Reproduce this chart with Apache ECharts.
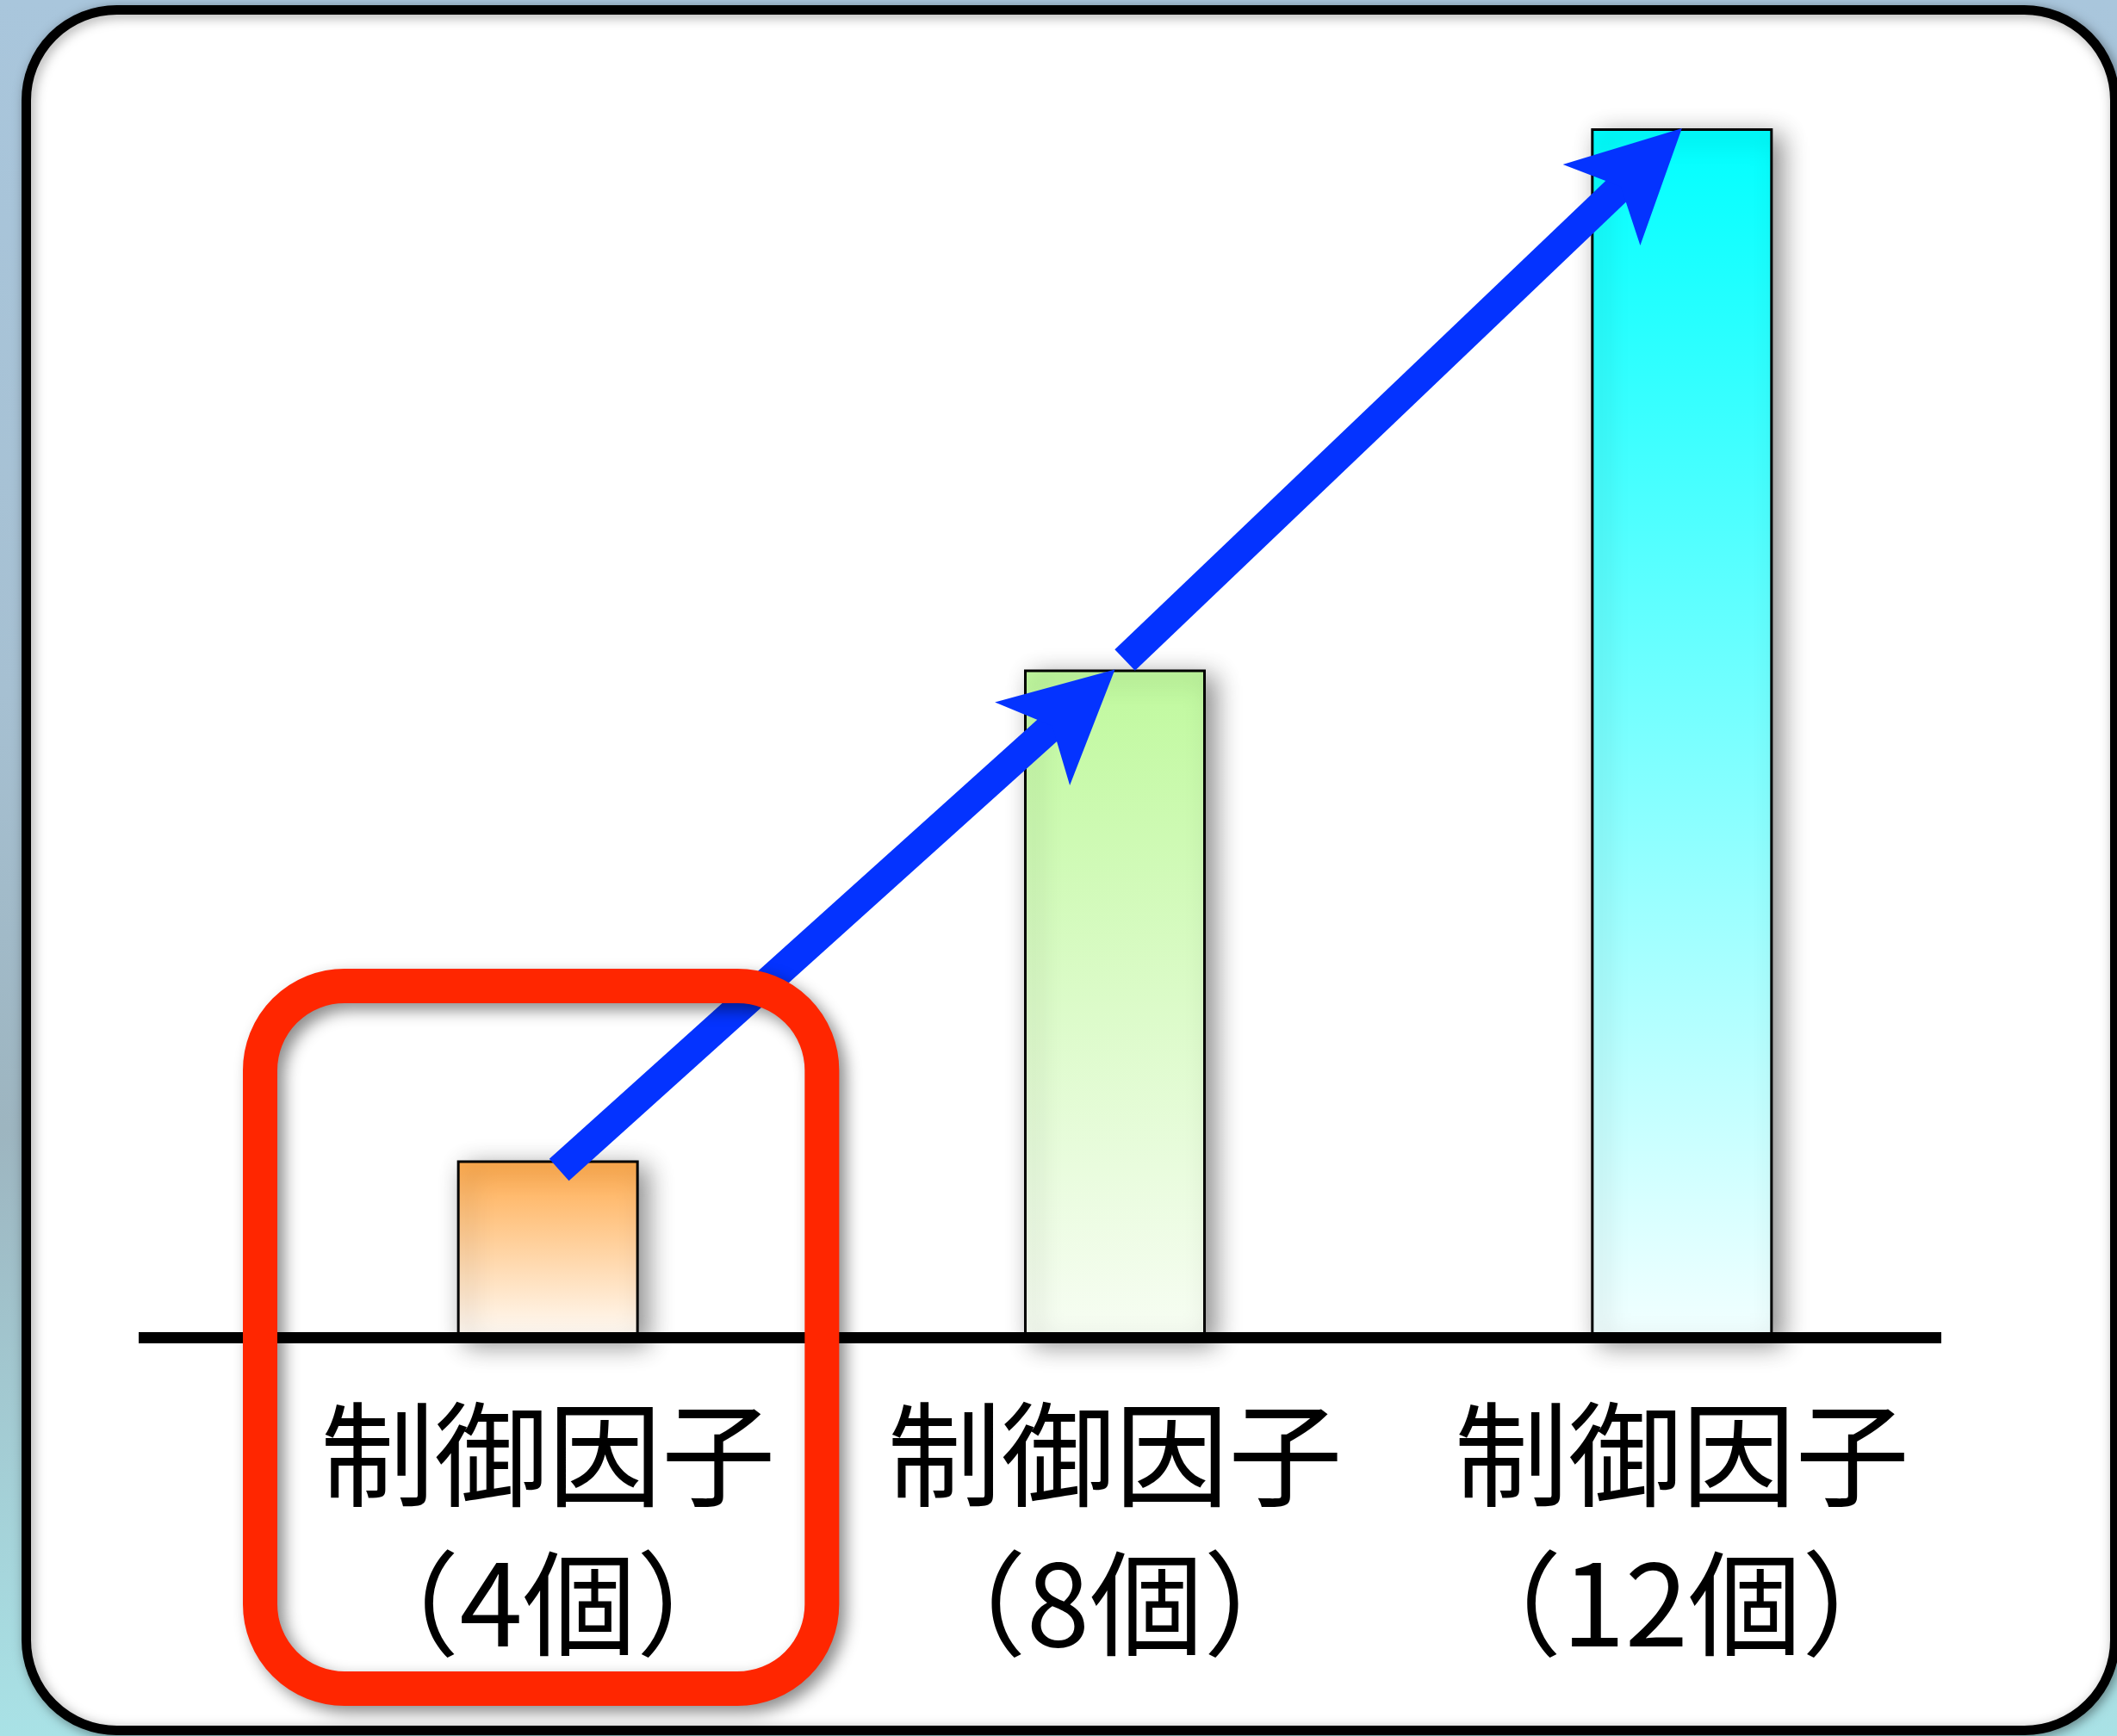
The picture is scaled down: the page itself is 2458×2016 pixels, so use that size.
<!DOCTYPE html>
<html><head><meta charset="utf-8">
<script src="https://cdn.jsdelivr.net/npm/echarts@6/dist/echarts.min.js"></script>
<style>
html,body{margin:0;padding:0;width:2458px;height:2016px;overflow:hidden;
background: linear-gradient(180deg,#a9c6dc 0%,#a6c0d2 40%,#9db5c0 65%,#a9e2e6 100%);}
#chart{width:2458px;height:2016px;}
</style></head><body><div id="chart"></div>
<script>
const categories = ['制御因子\n（4個）', '制御因子\n（8個）', '制御因子\n（12個）'];
const values = [13.7, 51.7, 93.6];
const barTopColors = ['#ffaa4c', '#c0f99e', '#00ffff'];
const barBottomColors = ['#fffbf6', '#f7fdf3', '#f2ffff'];
const arrowFrom = [0, 1];
const arrowTo = [1, 2];
const highlighted = [0];
const highlightReach = 27.2;

const FONT = '"Noto Sans CJK JP", "Noto Sans CJK SC", sans-serif';
const BLUE = '#0433ff';
const RED = '#ff2600';

const chart = echarts.init(document.getElementById('chart'), null, {renderer: 'canvas'});

const barData = values.map((v, i) => ({
  value: v,
  itemStyle: {
    color: new echarts.graphic.LinearGradient(0, 0, 0, 1, [
      {offset: 0, color: barTopColors[i]},
      {offset: 1, color: barBottomColors[i]}
    ])
  }
}));

const arrowData = arrowFrom.map((f, i) => [f, arrowTo[i]]);

const option = {
  animation: false,
  backgroundColor: 'transparent',
  graphic: [{
    type: 'rect',
    z: -10,
    shape: {x: 30.5, y: 11.5, width: 2425, height: 1998, r: 105},
    style: {fill: '#ffffff', stroke: '#000000', lineWidth: 11,
      shadowBlur: 14, shadowColor: 'rgba(0,0,0,0.35)', shadowOffsetX: 3, shadowOffsetY: 3}
  }],
  grid: [
    {left: 307, right: 176, top: 53, bottom: 463},
    {left: 161, right: 204, top: 53, bottom: 463}
  ],
  xAxis: [
    {
      type: 'category', gridIndex: 0, data: categories,
      axisLine: {show: false}, axisTick: {show: false}, splitLine: {show: false},
      axisLabel: {interval: 0, fontSize: 132, lineHeight: 173, margin: 49,
        color: '#000', fontFamily: FONT, fontWeight: 'normal'}
    },
    {
      type: 'value', gridIndex: 1, min: 0, max: 1, z: 3,
      axisLine: {show: true, lineStyle: {color: '#000', width: 13, cap: 'butt'}},
      axisTick: {show: false}, axisLabel: {show: false}, splitLine: {show: false}
    }
  ],
  yAxis: [
    {type: 'value', gridIndex: 0, min: 0, max: 100, show: false},
    {type: 'value', gridIndex: 1, min: 0, max: 1, show: false}
  ],
  series: [
    {
      type: 'bar', xAxisIndex: 0, yAxisIndex: 0, z: 2,
      barWidth: 211,
      data: barData,
      itemStyle: {borderColor: '#000', borderWidth: 3,
        shadowBlur: 28, shadowColor: 'rgba(0,0,0,0.45)', shadowOffsetX: 10, shadowOffsetY: 8}
    },
    {
      type: 'custom', xAxisIndex: 0, yAxisIndex: 0, z: 4, clip: false,
      data: arrowData,
      renderItem: function (params, api) {
        const f = api.value(0), t = api.value(1);
        const p0 = api.coord([f, values[f]]);
        const p1 = api.coord([t, values[t]]);
        const L = 129, W = 65;
        // first arrow starts slightly inside the low bar, later ones just past the bar top
        const start = params.dataIndex === 0
          ? [p0[0] + 13, p0[1] + 11]
          : (function () {
              const d0 = Math.hypot(p1[0] - p0[0], p1[1] - p0[1]);
              return [p0[0] + (p1[0] - p0[0]) / d0 * 16, p0[1] + (p1[1] - p0[1]) / d0 * 16];
            })();
        const dx = p1[0] - start[0], dy = p1[1] - start[1];
        const len = Math.hypot(dx, dy);
        const ux = dx / len, uy = dy / len, nx = -uy, ny = ux;
        const e = [p1[0] - ux * L * 0.7, p1[1] - uy * L * 0.7];
        const back = [p1[0] - ux * L, p1[1] - uy * L];
        const notch = [p1[0] - ux * L * 0.76, p1[1] - uy * L * 0.76];
        return {
          type: 'group',
          children: [
            {type: 'line', shape: {x1: start[0], y1: start[1], x2: e[0], y2: e[1]},
              style: {stroke: BLUE, lineWidth: 34, lineCap: 'butt'}},
            {type: 'polygon', shape: {points: [
              p1,
              [back[0] + nx * W, back[1] + ny * W],
              notch,
              [back[0] - nx * W, back[1] - ny * W]
            ]}, style: {fill: BLUE}}
          ]
        };
      }
    },
    {
      type: 'custom', xAxisIndex: 0, yAxisIndex: 0, z: 5, clip: false,
      data: highlighted.map(i => [i, 0]),
      renderItem: function (params, api) {
        const idx = api.value(0);
        const c = api.coord([idx, 0]);
        const top = api.coord([idx, highlightReach]);
        const band = api.size([1, 0])[0];
        const h = c[1] - top[1];
        return {
          type: 'rect',
          shape: {x: c[0] - band / 2 - 5, y: top[1], width: band - 6, height: 2 * h, r: 98},
          style: {fill: 'none', stroke: RED, lineWidth: 40,
            shadowBlur: 18, shadowOffsetX: 8, shadowOffsetY: 8, shadowColor: 'rgba(0,0,0,0.45)'}
        };
      }
    }
  ]
};
chart.setOption(option);
</script></body></html>
